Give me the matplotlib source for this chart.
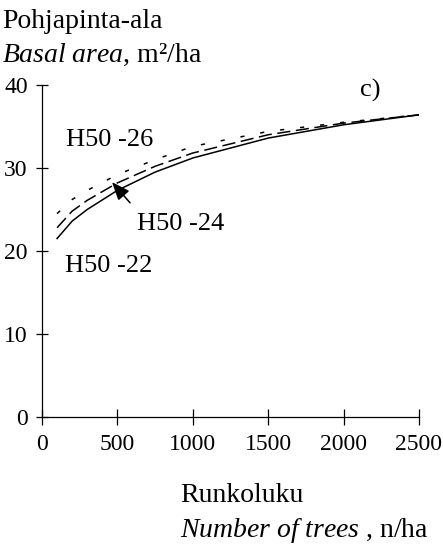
import numpy as np
import matplotlib
matplotlib.use("Agg")
import matplotlib.pyplot as plt

plt.rcParams['font.family'] = ['Liberation Serif', 'DejaVu Serif']
plt.rcParams['mathtext.fontset'] = 'custom'
plt.rcParams['mathtext.rm'] = 'Liberation Serif'
plt.rcParams['mathtext.it'] = 'Liberation Serif:italic'
plt.rcParams['lines.scale_dashes'] = False

# runkoluku n/ha
n = [100, 200, 300, 500, 750, 1000, 1500, 2000, 2500]
# pohjapinta-ala m2/ha
g22 = [21.5, 23.6, 25.0, 27.3, 29.5, 31.2, 33.6, 35.2, 36.4]
g24 = [22.8, 24.8, 26.1, 28.2, 30.2, 31.8, 34.0, 35.4, 36.4]
g26 = [24.5, 26.2, 27.3, 29.2, 31.0, 32.6, 34.4, 35.5, 36.4]

xticks = [0, 500, 1000, 1500, 2000, 2500]
yticks = [0, 10, 20, 30, 40]

fig = plt.figure(figsize=(4.43, 5.48), dpi=100)
ax = fig.add_axes([0.0948, 0.239, 0.851, 0.606])

ax.plot(n, g22, color='black', lw=1.1)
ax.plot(n, g24, color='black', lw=1.1, dashes=(9.5, 4))
ax.plot(n, g26, color='black', lw=1.1, dashes=(3, 11.5))

ax.set_xlim(0, 2500)
ax.set_ylim(0, 40)
ax.set_xticks(xticks)
ax.set_yticks(yticks)
ax.spines['top'].set_visible(False)
ax.spines['right'].set_visible(False)
for s in ['left', 'bottom']:
    ax.spines[s].set_linewidth(0.9)
ax.tick_params(direction='inout', width=0.9, labelsize=17)
ax.tick_params(axis='x', length=12, pad=6.5)
ax.tick_params(axis='y', length=8.6, pad=6)

ax.text(159, 32.7, 'H50 -26', fontsize=19, va='baseline')
ax.text(630, 22.5, 'H50 -24', fontsize=19, va='baseline')
ax.text(152, 17.5, 'H50 -22', fontsize=19, va='baseline')
ax.text(2109, 38.6, 'c)', fontsize=19, va='baseline')
ax.annotate('', xy=(464, 28.3), xytext=(584, 25.8),
            arrowprops=dict(arrowstyle='-|>,head_length=0.5,head_width=0.2',
                            color='black', lw=1.1,
                            mutation_scale=22, shrinkA=0, shrinkB=0))

fig.text(2 / 443, 1 - 28 / 548, 'Pohjapinta-ala', fontsize=20, va='baseline')
fig.text(2 / 443, 1 - 62 / 548, r'$\mathit{Basal\ area}$, m²/ha', fontsize=20, va='baseline')
fig.text(180 / 443, 1 - 502 / 548, 'Runkoluku', fontsize=20, va='baseline')
fig.text(180 / 443, 1 - 537 / 548, r'$\mathit{Number\ of\ trees}$ , n/ha', fontsize=20, va='baseline')

fig.savefig('out.png', dpi=100)
